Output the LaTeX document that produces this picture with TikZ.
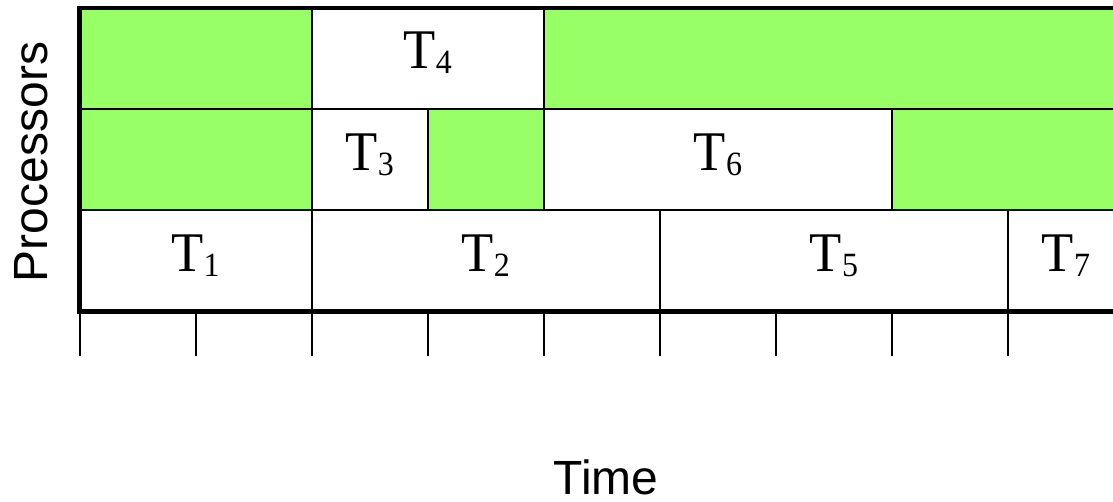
\documentclass[tikz,border=0pt]{standalone}
\usepackage{fontspec}
\setmainfont{Liberation Serif}
\setsansfont{Liberation Sans}
\newfontfamily\taskfont[FakeStretch=0.94]{Liberation Serif}
\definecolor{idle}{RGB}{153,255,102}
\newcommand{\tsk}[1]{T\raisebox{-5pt}{\fontsize{34}{40}\selectfont #1}}
\begin{document}
\begin{tikzpicture}[x=1pt,y=-1pt,
  idlebox/.style={fill=idle},
  gridline/.style={line width=2pt, black},
  axisline/.style={line width=4.5pt, black},
  tickline/.style={line width=2pt, black},
  tasklabel/.style={anchor=base, font=\taskfont\fontsize{56}{60}\selectfont, inner sep=0pt},
  axislabel/.style={font=\sffamily\fontsize{48}{56}\selectfont, inner sep=0pt}]
\useasboundingbox (0,0) rectangle (1113,502);
\begin{scope}
\clip (0,0) rectangle (1113,502);
% idle (green) regions
\fill[idlebox] (79.5,8) rectangle (311.7,108.7);
\fill[idlebox] (543.9,8) rectangle (1113,108.7);
\fill[idlebox] (79.5,108.7) rectangle (311.7,210);
\fill[idlebox] (427.8,108.7) rectangle (543.9,210);
\fill[idlebox] (892.2,108.7) rectangle (1113,210);
% row separators
\draw[gridline] (79.5,108.7) -- (1113,108.7);
\draw[gridline] (79.5,210) -- (1113,210);
% task boundaries
\draw[gridline] (311.7,8) -- (311.7,311.5);
\draw[gridline] (543.9,8) -- (543.9,210);
\draw[gridline] (427.8,108.7) -- (427.8,210);
\draw[gridline] (892.2,108.7) -- (892.2,210);
\draw[gridline] (660,210) -- (660,311.5);
\draw[gridline] (1008.3,210) -- (1008.3,311.5);
% ticks
\foreach \tx in {79.5,195.6,311.7,427.8,543.9,660,776.1,892.2,1008.3}
  \draw[tickline] (\tx,311.5) -- (\tx,356);
% axes
\draw[axisline] (77.25,8) -- (1113,8);
\draw[axisline] (79.5,5.75) -- (79.5,313.75);
\draw[axisline] (77.25,311.5) -- (1113,311.5);
\end{scope}
% task labels
\node[tasklabel] (t4) at (427.8,69) {\tsk{4}};
\node[tasklabel] (t3) at (369.7,170.5) {\tsk{3}};
\node[tasklabel] (t6) at (718,170.5) {\tsk{6}};
\node[tasklabel] (t1) at (195.6,272) {\tsk{1}};
\node[tasklabel] (t2) at (485.8,272) {\tsk{2}};
\node[tasklabel] (t5) at (834,272) {\tsk{5}};
\node[tasklabel] (t7) at (1066,272) {\tsk{7}};
% axis labels
\node[axislabel, rotate=90, anchor=base] (proc) at (47,162) {Processors};
\node[axislabel, anchor=base] (time) at (606,494) {Time};
\end{tikzpicture}
\end{document}
